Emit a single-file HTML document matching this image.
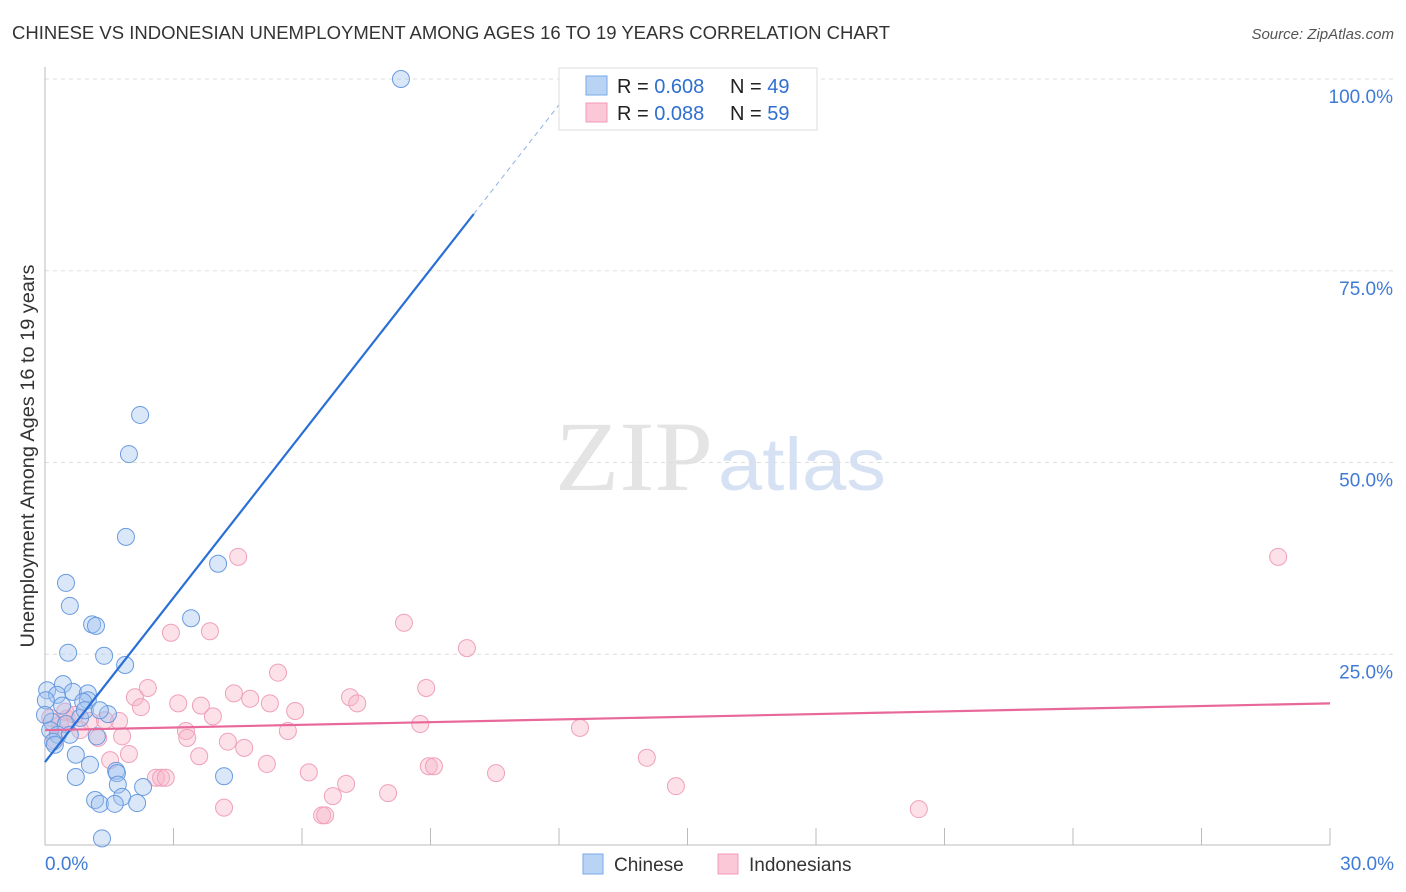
<!DOCTYPE html>
<html><head><meta charset="utf-8"><style>
body{margin:0;background:#fff;font-family:"Liberation Sans",sans-serif;}
svg{display:block}
</style></head><body>
<svg id="chart" width="1406" height="892">
<text x="12" y="39" font-size="18" fill="#333" textLength="878" lengthAdjust="spacingAndGlyphs">CHINESE VS INDONESIAN UNEMPLOYMENT AMONG AGES 16 TO 19 YEARS CORRELATION CHART</text>
<text x="1394" y="39" font-size="15" fill="#555" font-style="italic" text-anchor="end">Source: ZipAtlas.com</text>
<text x="555" y="490" font-size="100" fill="#e4e4e4" textLength="158" lengthAdjust="spacingAndGlyphs" font-family="Liberation Serif,serif">ZIP</text>
<text x="718" y="490" font-size="74" fill="#d6e2f4" textLength="168" lengthAdjust="spacingAndGlyphs">atlas</text>
<text transform="translate(34,456) rotate(-90)" font-size="19" fill="#333" text-anchor="middle" textLength="383" lengthAdjust="spacingAndGlyphs">Unemployment Among Ages 16 to 19 years</text>
<g id="grid"></g><g id="marks"></g><g id="lines"></g>
<g>
<rect x="559" y="68" width="258" height="62" fill="#fff" stroke="#ddd"/>
<rect x="586" y="76" width="21" height="19" fill="#b9d3f4" stroke="#7aa8e8"/>
<rect x="586" y="103" width="21" height="19" fill="#fbc8d7" stroke="#f09ab5"/>
<text x="617" y="93" font-size="20" fill="#222">R = <tspan fill="#2f6fd0">0.608</tspan></text>
<text x="730" y="93" font-size="20" fill="#222">N = <tspan fill="#2f6fd0">49</tspan></text>
<text x="617" y="120" font-size="20" fill="#222">R = <tspan fill="#2f6fd0">0.088</tspan></text>
<text x="730" y="120" font-size="20" fill="#222">N = <tspan fill="#2f6fd0">59</tspan></text>
</g>
<g>
<rect x="583" y="854" width="20" height="20" fill="#b9d3f4" stroke="#7aa8e8"/>
<text x="614" y="871" font-size="19" fill="#333">Chinese</text>
<rect x="718" y="854" width="20" height="20" fill="#fbc8d7" stroke="#f09ab5"/>
<text x="749" y="871" font-size="19" fill="#333">Indonesians</text>
</g>
</svg>
<script>
const xTicks=[0,30];
const yTicks=[25,50,75,100];
const chineseX=[8.31,2.22,1.96,1.89,4.04,0.49,0.58,3.41,1.10,1.19,0.54,1.38,1.87,0.05,0.42,0.65,1.0,0.28,1.0,0.89,1.47,0.82,0.16,0.49,0.12,0.30,0.19,1.21,0.72,1.05,0.72,1.66,1.68,1.70,2.29,4.18,1.17,1.80,1.28,1.63,2.15,1.33,0.02,0.4,0.93,0.58,0,1.28,0.23];
const chineseY=[100,56.2,51.1,40.3,36.8,34.3,31.3,29.7,28.9,28.7,25.2,24.8,23.6,20.3,21.1,20.1,19.9,19.7,19.0,18.8,17.2,16.7,16.2,15.9,15.1,14.5,13.6,14.3,11.9,10.6,9.0,9.8,9.5,8.0,7.7,9.1,6.0,6.4,5.5,5.5,5.6,1.0,19.0,18.3,17.7,14.5,17.1,17.7,13.2];
const indoX=[4.51,28.79,8.38,2.94,3.85,9.85,5.44,2.40,4.41,8.90,2.10,7.12,7.29,4.79,5.25,3.11,3.64,2.24,5.84,3.92,1.73,1.05,0.51,0.12,8.76,12.49,3.29,5.67,3.32,1.24,1.80,4.27,4.65,1.96,3.60,1.52,14.05,5.18,8.96,9.08,6.16,10.53,2.59,2.71,2.82,7.03,14.73,6.72,8.01,4.18,20.40,6.47,6.54,0.35,0.70,0.23,0.82,1.40,0.47];
const indoY=[37.7,37.7,29.1,27.8,28.0,25.8,22.6,20.6,19.9,20.6,19.4,19.4,18.6,19.2,18.6,18.6,18.3,18.1,17.6,16.9,16.3,16.3,16.6,16.7,15.9,15.4,15.0,15.0,14.1,14.1,14.3,13.6,12.8,12.0,11.7,11.2,11.5,10.7,10.4,10.4,9.6,9.5,8.9,8.9,8.9,8.1,7.8,6.5,6.9,5.0,4.8,4.0,4.0,15.8,17.1,13.8,15.1,16.4,17.5];
const chineseTrend=[0,10.95,10.01,82.4,12.47,100];
const indoTrend=[0,15.1,30,18.6];
const NS="http://www.w3.org/2000/svg";
const X=v=>45+v/30*1285, Y=v=>846-v/100*767;
function mk(t,a,p){const e=document.createElementNS(NS,t);for(const k in a)e.setAttribute(k,a[k]);p.appendChild(e);return e;}
const grid=document.getElementById('grid'),marks=document.getElementById('marks'),lines=document.getElementById('lines');
yTicks.forEach(v=>{
 const l=mk('line',{x1:45,x2:1394,y1:Y(v),y2:Y(v),stroke:'#ddd','stroke-dasharray':'4,4'},grid);
 
 
 const t=mk('text',{x:1393,y:Y(v)+24,'font-size':19,fill:'#3f7bd6','text-anchor':'end'},grid);t.textContent=v.toFixed(1)+'%';
 
 
});
const ax=mk('line',{x1:45,x2:1330,y1:845,y2:845,stroke:'#bbb'},grid);


const ay=mk('line',{x1:45,x2:45,y1:67,y2:845,stroke:'#bbb'},grid);


for(let i=0;i<=10;i++){const tk=mk('line',{x1:X(i*3),x2:X(i*3),y1:828,y2:845,stroke:'#bbb'},grid);
 
 }
xTicks.forEach((v,i)=>{const t=mk('text',{x:i?1394:45,y:870,'font-size':19,fill:'#3f7bd6','text-anchor':i?'end':'start'},grid);t.textContent=v.toFixed(1)+'%';
 
 });
indoX.forEach((x,i)=>{const c=mk('circle',{cx:X(x),cy:Y(indoY[i]),r:8.5,fill:'rgba(248,180,200,0.4)',stroke:'#f0a0ba','stroke-width':1},marks);
 
 });
chineseX.forEach((x,i)=>{const c=mk('circle',{cx:X(x),cy:Y(chineseY[i]),r:8.5,fill:'rgba(160,195,240,0.4)',stroke:'#6a9be0','stroke-width':1},marks);
 
 });
const cl=mk('line',{x1:X(chineseTrend[0]),y1:Y(chineseTrend[1]),x2:X(chineseTrend[2]),y2:Y(chineseTrend[3]),stroke:'#2a6fd6','stroke-width':2.2},lines);


const cd=mk('line',{x1:X(chineseTrend[2]),y1:Y(chineseTrend[3]),x2:X(chineseTrend[4]),y2:Y(chineseTrend[5]),stroke:'#8fb0e8','stroke-width':1,'stroke-dasharray':'5,4'},lines);


const il=mk('line',{x1:X(indoTrend[0]),y1:Y(indoTrend[1]),x2:X(indoTrend[2]),y2:Y(indoTrend[3]),stroke:'#e8689a','stroke-width':2.2},lines);


</script>
</body></html>
